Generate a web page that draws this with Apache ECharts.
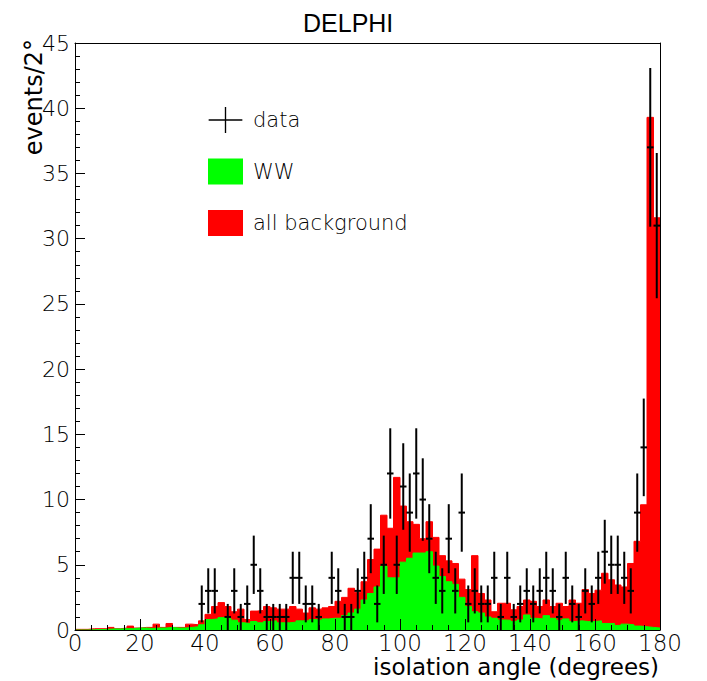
<!DOCTYPE html>
<html><head><meta charset="utf-8">
<script src="https://cdn.jsdelivr.net/npm/echarts@6/dist/echarts.min.js"></script>
<style>html,body{margin:0;padding:0;background:#fff}#c{width:707px;height:681px}</style>
</head><body><div id="c"></div>
<script>
// ---- data (2-degree bins from 0 to 180) ----
const binWidth = 2;
const xMin = 0, xMax = 180, xStep = 20;
const yMin = 0, yMax = 45, yStep = 5;

const dataCounts = [
  0,0,0,0,0,0,0,0,0,0, 0,0,0,0,0,0,0,0,0,2,
  3,3,0,1,3,1,2,5,3,1, 1,1,1,4,4,2,2,1,0,4,
  3,1,1,3,4,7,2,5,12,5, 11,9,12,10,7,4,3,7,3,9,
  2,3,2,2,4,1,4,1,2,3, 2,3,4,3,1,4,2,1,3,2,
  4,6,5,5,4,3,9,14,37,31
];
const wwExpected = [
  0,0,0.02,0.03,0.05,0.08,0.08,0.1,0.1,0.15, 0.15,0.12,0.15,0.15,0.2,0.15,0.15,0.2,0.25,0.4,
  0.8,0.85,0.95,0.9,0.75,0.55,0.5,0.65,0.55,0.65, 0.7,0.55,0.55,0.6,0.7,0.7,0.8,0.75,0.85,0.9,
  0.9,1.1,1.3,1.6,2.3,2.8,3.3,4.9,4.0,4.0, 5.2,5.5,5.9,5.9,6.0,4.9,4.1,3.7,3.5,2.5,
  1.8,1.4,1.3,1.0,0.9,0.77,0.75,0.65,0.77,1.15, 0.9,0.85,1.1,0.9,0.75,0.85,0.65,0.7,0.65,0.65,
  0.7,0.5,0.5,0.35,0.45,0.4,0.3,0.25,0.2,0.15
];
const allBackground = [
  0.05,0.05,0.1,0.1,0.1,0.2,0.1,0.15,0.3,0.15, 0.2,0.2,0.45,0.2,0.5,0.2,0.2,0.45,0.4,0.7,
  1.2,1.8,2.1,1.8,1.4,1.6,0.8,1.45,1.5,1.8, 1.7,1.6,1.6,1.8,1.6,1.3,1.7,1.6,1.7,1.8,
  2.2,2.5,3.2,2.9,3.7,5.4,6.2,8.8,7.8,11.7, 9.5,8.3,8.1,7.0,8.3,7.1,5.7,5.3,5.1,3.9,
  3.1,5.7,2.8,2.3,1.4,2.05,2.05,1.55,1.8,2.3, 2.2,1.8,2.3,1.8,2.05,1.8,2.3,2.05,3.1,2.8,
  3.05,4.35,3.85,3.45,3.3,5.1,6.8,9.6,39.3,31.6
];
const titleText = 'DELPHI';
const xTitle = 'isolation angle (degrees)';
const yTitle = 'events/2°';
const legendNames = ['data', 'WW', 'all background'];

// ---- build ----
function stepPoints(vals){
  const pts = vals.map((v,i)=>[i*binWidth, v]);
  pts.push([vals.length*binWidth, vals[vals.length-1]]);
  return pts;
}
const dataPoints = [];
dataCounts.forEach((n,i)=>{ if(n>0) dataPoints.push([i*binWidth + binWidth/2, n]); });

const FONT = "'Liberation Sans', 'DejaVu Sans', sans-serif";
const WIDE = "'DejaVu Sans', sans-serif";
const chart = echarts.init(document.getElementById('c'), null, {renderer:'svg'});

const baseX = {type:'value', min:xMin, max:xMax, interval:xStep, gridIndex:0};
const baseY = {type:'value', min:yMin, max:yMax, interval:yStep, gridIndex:0};

chart.setOption({
  animation:false,
  backgroundColor:'#fff',
  title:{text:titleText, left:298, top:5, textStyle:{fontFamily:FONT, fontSize:25, fontWeight:'normal', color:'#000'}},
  grid:{left:75, right:47, top:43, bottom:51, containLabel:false},
  legend:{
    orient:'vertical', left:203, top:102, itemWidth:35, itemHeight:26, itemGap:25.5,
    selectedMode:false,
    textStyle:{fontFamily:WIDE, fontWeight:200, fontSize:21, color:'#000', padding:[0,0,0,5]},
    data:[
      {name:legendNames[0], icon:'path://M0,12.8H35V14.2H0Z M16.8,0H18.2V27H16.8Z', itemStyle:{color:'#000'}},
      {name:legendNames[1], icon:'rect'},
      {name:legendNames[2], icon:'rect'}
    ]
  },
  xAxis:[
    Object.assign({}, baseX, {
      position:'bottom', z:10,
      axisLine:{show:true, onZero:false, lineStyle:{color:'#000', width:1}},
      axisTick:{show:true, inside:true, length:11, lineStyle:{color:'#000', width:1}},
      minorTick:{show:true, splitNumber:4, length:5, lineStyle:{color:'#000', width:1}},
      splitLine:{show:false},
      axisLabel:{color:'#000', fontFamily:WIDE, fontWeight:200, fontSize:23, lineHeight:20, margin:3, showMinLabel:true, showMaxLabel:true}
    }),
    Object.assign({}, baseX, {
      position:'top', z:10,
      axisLine:{show:true, onZero:false, lineStyle:{color:'#000', width:1}},
      axisTick:{show:false}, axisLabel:{show:false}, splitLine:{show:false}
    })
  ],
  yAxis:[
    Object.assign({}, baseY, {
      position:'left', z:10,
      axisLine:{show:true, onZero:false, lineStyle:{color:'#000', width:1}},
      axisTick:{show:true, inside:true, length:10, lineStyle:{color:'#000', width:1}},
      minorTick:{show:true, splitNumber:5, length:5, lineStyle:{color:'#000', width:1}},
      splitLine:{show:false},
      axisLabel:{color:'#000', fontFamily:WIDE, fontWeight:200, fontSize:22, margin:5, showMinLabel:true, showMaxLabel:true}
    }),
    Object.assign({}, baseY, {
      position:'right', z:10,
      axisLine:{show:true, onZero:false, lineStyle:{color:'#000', width:1}},
      axisTick:{show:false}, axisLabel:{show:false}, splitLine:{show:false}
    })
  ],
  graphic:[
    {type:'text', left:22, top:39, rotation:Math.PI/2,
     style:{text:yTitle, fontFamily:WIDE, fontSize:24, fill:'#000'}},
    {type:'text', right:48, top:655,
     style:{text:xTitle, fontFamily:WIDE, fontSize:23, lineHeight:24, fill:'#000'}}
  ],
  series:[
    {name:legendNames[2], type:'line', step:'end', data:stepPoints(allBackground),
     xAxisIndex:0, yAxisIndex:0, showSymbol:false, symbol:'none',
     itemStyle:{color:'#ff0000'}, lineStyle:{color:'#ff0000', width:1},
     areaStyle:{color:'#ff0000', opacity:1}, z:2},
    {name:legendNames[1], type:'line', step:'end', data:stepPoints(wwExpected),
     xAxisIndex:0, yAxisIndex:0, showSymbol:false, symbol:'none',
     itemStyle:{color:'#00ff00'}, lineStyle:{color:'#00ff00', width:1},
     areaStyle:{color:'#00ff00', opacity:1}, z:3},
    {name:legendNames[0], type:'custom', data:dataPoints, xAxisIndex:0, yAxisIndex:0, z:4,
     itemStyle:{color:'#000'},
     renderItem:function(params, api){
       const c = api.value(0), n = api.value(1), e = Math.sqrt(n);
       const top = api.coord([c, n+e]), bot = api.coord([c, Math.max(0, n-e)]);
       const l = api.coord([c - binWidth/2, n]), r = api.coord([c + binWidth/2, n]);
       return {type:'group', children:[
         {type:'line', shape:{x1:top[0], y1:top[1], x2:bot[0], y2:bot[1]}, style:{stroke:'#000', lineWidth:2}},
         {type:'line', shape:{x1:l[0], y1:l[1], x2:r[0], y2:r[1]}, style:{stroke:'#000', lineWidth:2}}
       ]};
     }}
  ]
});
</script></body></html>
